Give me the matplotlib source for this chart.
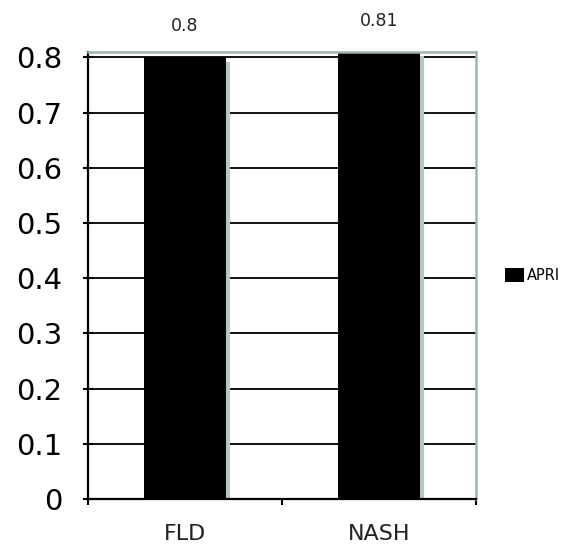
import numpy as np
import matplotlib.pyplot as plt

categories = ['FLD', 'NASH']
apri = [0.8, 0.81]
value_labels = ['0.8', '0.81']
yticks = [0, 0.1, 0.2, 0.3, 0.4, 0.5, 0.6, 0.7, 0.8]
ytick_labels = ['0', '0.1', '0.2', '0.3', '0.4', '0.5', '0.6', '0.7', '0.8']

plt.rcParams['font.family'] = ['DejaVu Sans']

fig = plt.figure(figsize=(5.70, 5.47), dpi=100)
ax = fig.add_axes([0.1544, 0.0878, 0.6807, 0.8172])

x = np.arange(len(categories))
w = 0.42

# light shadow on the right of each bar
ax.bar(x + 0.022, np.array(apri) - 0.008, width=w, bottom=0, color='#b7c6c6', zorder=1)
bars = ax.bar(x, apri, width=w, color='black', zorder=2, label='APRI')

for xi, v, s in zip(x, apri, value_labels):
    ax.annotate(s, (xi, v), xytext=(0, 16), textcoords='offset points',
                ha='center', va='bottom', fontsize=12.5, color='#222222')

ax.set_xlim(-0.5, 1.5)
ax.set_ylim(0, 0.81)
ax.set_yticks(yticks)
ax.set_yticklabels(ytick_labels)
ax.yaxis.grid(True, color='black', linewidth=1.3, zorder=0)
ax.set_axisbelow(True)

ax.set_xticks(x)
ax.set_xticklabels(categories, fontsize=16, color='#222222')
ax.set_xticks([-0.5, 0.5, 1.5], minor=True)
ax.tick_params(axis='x', which='major', length=0, pad=18)
ax.tick_params(axis='x', which='minor', length=4, width=1.5, direction='out')
ax.tick_params(axis='y', length=7, width=1.5, direction='inout', labelsize=21, pad=15)

for side in ['left', 'bottom']:
    ax.spines[side].set_linewidth(1.6)
    ax.spines[side].set_color('black')
for side in ['top', 'right']:
    ax.spines[side].set_linewidth(1.8)
    ax.spines[side].set_color('#9fb2b2')

ax.legend(loc='center left', bbox_to_anchor=(1.04, 0.5), frameon=False,
          handlelength=1.3, handleheight=1.1, handletextpad=0.25,
          prop={'size': 10.5})

plt.savefig('out.png', dpi=100)
